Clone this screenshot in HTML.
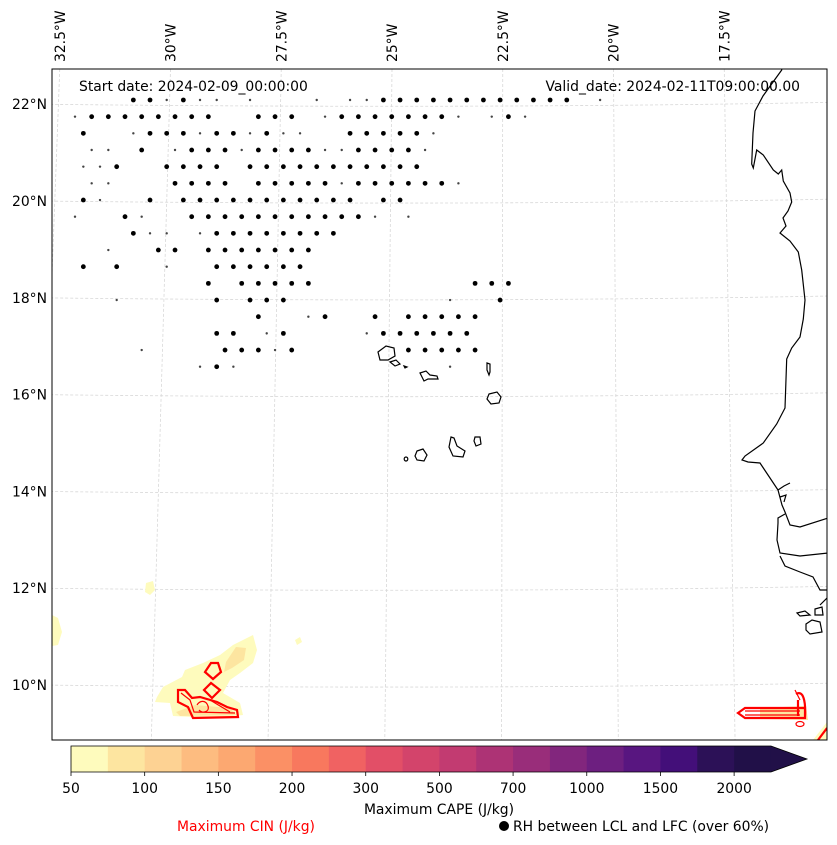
<!DOCTYPE html>
<html><head><meta charset="utf-8"><style>
html,body{margin:0;padding:0;background:#fff;}
svg{display:block;font-family:"DejaVu Sans","Liberation Sans",sans-serif;}
</style></head><body>
<svg id="chart" width="837" height="845" viewBox="0 0 837 845" xmlns="http://www.w3.org/2000/svg">
<rect width="837" height="845" fill="#fff"/>
<defs><clipPath id="mapclip"><rect x="52" y="69" width="775" height="671"/></clipPath></defs>
<g id="grid" stroke="#d8d8d8" stroke-width="0.8" stroke-dasharray="3,2" fill="none" clip-path="url(#mapclip)"></g>
<g id="cape" clip-path="url(#mapclip)">
  <path fill="#fefbbd" d="M253,635 L257,650 L253,663 L240,673 L230,680 L223,693 L240,703 L243,715 L213,718 L173,716 L170,703 L155,702 L157,697 L163,687 L182,677 L185,670 L203,663 L220,655 L233,645 Z"/>
  <path fill="#fde5a0" d="M236,647 L246,648 L244,660 L232,668 L224,672 L226,662 Z M176,712 L195,705 L230,708 L236,715 L180,716 Z"/>
  <path fill="#fefbbd" d="M146,583 L153,581 L155,590 L150,595 L145,592 Z M295,640 L300,637 L302,642 L297,645 Z M52,615 L58,618 L62,632 L58,645 L52,646 Z"/>
  <path fill="#fde5a0" d="M760,708 L806,706 L808,720 L760,719 Z"/>
  <path fill="#fefbbd" d="M813,740 L827,722 L827,740 Z"/>
</g>
<g id="cin" fill="none" stroke="#ff0000" stroke-width="2.2" clip-path="url(#mapclip)">
  <path d="M211,663 L218,663 L221,672 L213,679 L205,672 Z"/>
  <path d="M211,683 L220,690 L212,698 L204,690 Z"/>
  <path d="M178,690 L185,690 L192,698 L200,697 L217,702 L227,707 L237,710 L238,717 L193,718 L188,707 L178,702 Z"/>
  <path stroke-width="1.2" d="M181,693 L190,700 L194,712 L235,713 M197,705 C200,700 206,700 208,706 C210,712 202,714 199,710 M210,700 L230,712"/>
  <path d="M738,713 L745,708 L805,708 L805,718 L745,718 Z M796,694 C803,690 806,700 805,718 M798,700 L798,716"/>
  <path stroke-width="1.2" d="M745,711 L800,711 M745,715 L800,715 M795,690 L800,700"/>
  <ellipse cx="800" cy="724" rx="4" ry="2.5" stroke-width="1.2"/>
  <path d="M818,740 L827,728"/>
</g>
<g id="coast" fill="none" stroke="#000" stroke-width="1.2" clip-path="url(#mapclip)">
  <path d="M782,60 L781.7,70 L763,96 L755,111 L753,133 L751.7,164 L753.3,168 L756.7,150 L763.3,155 L773.3,170 L778.3,174 L781.7,170 L783.3,181 L790,193 L791.7,202 L788,211 L783,218 L786,226 L780,233 L790,241 L798.3,252 L801.7,270 L805,300 L803.3,319 L800,337 L791.7,348 L786.7,359 L785,408 L776.7,424 L763.3,443 L745,456 L742,460 L748,462 L760,463 L770,478 L778,490 L782,505 L785,512 L790,525 L800,527 L828,518"/>
  <path d="M778,490 L784,486 L790,483 M780,497 L786,495 L784,502"/>
  <path d="M785,514 L778,518 L778,523 L777,540 L780,553 L800,556 L828,553"/>
  <path d="M780,556 L785,566 L800,572 L813,577 L820,590 L828,590"/>
  <path d="M797,613 L805,611 L810,615 L800,616 Z M815,609 L822,607 L823,615 L815,615 Z M806,624 L812,620 L820,622 L822,632 L810,634 L806,630 Z M820,605 L827,598"/>
  <path d="M378,352 L386,346 L394,348 L395,356 L388,360 L380,360 Z"/>
  <path d="M390,362 L396,360 L400,364 L395,366 Z M404,366 L407,367 L405,368 Z"/>
  <path d="M420,373 L426,371 L430,375 L437,376 L438,379 L428,379 L424,381 Z"/>
  <path d="M487,363 L490,364 L490,372 L489,375 L487,370 Z"/>
  <path d="M489,394 L497,392 L501,397 L499,403 L491,404 L487,399 Z"/>
  <path d="M451,437 L454,438 L457,446 L465,451 L463,457 L453,456 L449,447 Z"/>
  <path d="M475,437 L480,437 L481,444 L476,446 L474,441 Z"/>
  <path d="M417,451 L423,449 L427,455 L424,461 L417,460 L415,456 Z"/>
  <ellipse cx="406" cy="459" rx="1.8" ry="2"/>
</g>
<g id="dots" clip-path="url(#mapclip)"></g>
<rect x="52" y="69" width="775" height="671" fill="none" stroke="#000" stroke-width="1"/>
<g id="latlabels" font-size="13.9" text-anchor="end" fill="#000"></g>
<g id="lonlabels" font-size="13.9" fill="#000"></g>
<text x="79" y="91" font-size="13.9">Start date: 2024-02-09_00:00:00</text>
<text x="800" y="91" font-size="13.9" text-anchor="end">Valid_date: 2024-02-11T09:00:00.00</text>
<g id="cbar"></g>
<g id="cbticks" font-size="13.9" text-anchor="middle"></g>
<text x="439" y="814" font-size="13.9" text-anchor="middle">Maximum CAPE (J/kg)</text>
<text x="246" y="831" font-size="13.9" text-anchor="middle" fill="#ff0000">Maximum CIN (J/kg)</text>
<circle cx="504" cy="826" r="5" fill="#000"/>
<text x="513" y="831" font-size="13.9">RH between LCL and LFC (over 60%)</text>
</svg>
<script>
const NS = "http://www.w3.org/2000/svg";
// RH dot grid rows: 'o' full dot, 'x' partial mark, '.' none
const dotRows = [
"....ooxoxx.x...x.xxoooooooooooo.x",
"xoooooooo..ooo.xooooooox.xox",
".o..xoooxooxoxx..ooooox",
".xx.o.xoooxooooxxoooox",
".xxo..oooo.ooooooooooo",
".xx...oooo.oooooxoooooox",
".ox..o.ooooooooooo.oo",
"x..ox..ooooooooooox.x",
"....oxx.xoooooooo",
"..x..oo.ooooooo",
".o.o..x..oooooo",
"........o.ooooo.........ooo",
"...x.....o.ooo.........x..o",
"...........o..xo..o.ooooo",
".........oo.xo....xoooooo",
"....x....oooxo......ooooo",
"........xox............x"
];
const latTicks = [22, 20, 18, 16, 14, 12, 10];
const latLabels = ["22°N","20°N","18°N","16°N","14°N","12°N","10°N"];
const lonTicks = [-32.5, -30, -27.5, -25, -22.5, -20, -17.5];
const lonLabels = ["32.5°W","30°W","27.5°W","25°W","22.5°W","20°W","17.5°W"];
const capeLevels = [50,75,100,125,150,175,200,250,300,400,500,600,700,800,1000,1250,1500,1750,2000];
const capeColors = ["#fefbbd","#fde5a0","#fdd293","#fdbc80","#fca871","#fb9065","#f8785e","#f06262","#e24f67","#d3446b","#c23b71","#ad3375","#992d7a","#82267d","#6d1f80","#581680","#430f79","#2c1157","#211048"];
const cbLabels = ["50","100","150","200","300","500","700","1000","1500","2000"];

// axis functions
function latY(lat){ return 685 - (lat-10)*48.4; }
function lonXTop(lon){ return 392 + (lon+25)*44.3; }
function lonXBot(lon){ return lonXTop(lon) + (lon+22)*2.4; }
function dotX(row,k){ return (row%2===0 ? 66.67 : 75) + 16.67*k; }
function dotY(row){ return 100 + 16.67*row; }

const grid = document.getElementById('grid');
latTicks.forEach((lat,i)=>{
  const y = latY(lat);
  const p = document.createElementNS(NS,'path');
  p.setAttribute('d', `M40,${y} Q470,${y+5} 840,${y-2}`);
  
  
  grid.appendChild(p);
  const t = document.createElementNS(NS,'text');
  t.setAttribute('x', 47); t.setAttribute('y', y+5);
  t.textContent = latLabels[i];
  
  
  document.getElementById('latlabels').appendChild(t);
});
lonTicks.forEach((lon,i)=>{
  const xt = lonXTop(lon);
  const xb = lonXBot(lon);
  const p = document.createElementNS(NS,'path');
  p.setAttribute('d', `M${xt},69 L${xb},740`);
  
  
  grid.appendChild(p);
  const t = document.createElementNS(NS,'text');
  t.setAttribute('transform', `translate(${xt+5},62) rotate(-90)`);
  t.textContent = lonLabels[i];
  
  
  document.getElementById('lonlabels').appendChild(t);
});

const dots = document.getElementById('dots');
dotRows.forEach((row,r)=>{
  for(let k=0;k<row.length;k++){
    const c=row[k]; if(c==='.') continue;
    const d=document.createElementNS(NS,'circle');
    d.setAttribute('cx', dotX(r,k)); d.setAttribute('cy', dotY(r));
    d.setAttribute('r', c==='o'?2.4:1.2);
    d.setAttribute('fill', c==='o'?'#000':'#444');
    
    
    dots.appendChild(d);
  }
});

// colorbar
const cb = document.getElementById('cbar');
const cbX0=71, cbW=36.84, cbY=746, cbH=26;
capeColors.forEach((col,i)=>{
  const r=document.createElementNS(NS,'rect');
  r.setAttribute('x', cbX0+i*cbW); r.setAttribute('y', cbY);
  r.setAttribute('width', cbW+0.5); r.setAttribute('height', cbH);
  r.setAttribute('fill', col);
  
  
  cb.appendChild(r);
});
const xEnd = cbX0+capeColors.length*cbW;
const tri=document.createElementNS(NS,'path');
tri.setAttribute('d', `M${xEnd},${cbY} L${xEnd+36},${cbY+cbH/2} L${xEnd},${cbY+cbH} Z`);
tri.setAttribute('fill', capeColors[capeColors.length-1]);


cb.appendChild(tri);
const outline=document.createElementNS(NS,'path');
outline.setAttribute('d', `M${cbX0},${cbY} L${xEnd},${cbY} L${xEnd+36},${cbY+cbH/2} L${xEnd},${cbY+cbH} L${cbX0},${cbY+cbH} Z`);
outline.setAttribute('fill','none'); outline.setAttribute('stroke','#000'); outline.setAttribute('stroke-width','0.8');


cb.appendChild(outline);
const cbt=document.getElementById('cbticks');
cbLabels.forEach((lab,i)=>{
  const x = cbX0 + i*2*cbW;
  const tk=document.createElementNS(NS,'line');
  tk.setAttribute('x1',x); tk.setAttribute('x2',x); tk.setAttribute('y1',cbY+cbH); tk.setAttribute('y2',cbY+cbH+4);
  tk.setAttribute('stroke','#000'); tk.setAttribute('stroke-width','0.8');
  
  
  cbt.appendChild(tk);
  const t=document.createElementNS(NS,'text');
  t.setAttribute('x',x); t.setAttribute('y',793);
  t.textContent=lab;
  
  
  cbt.appendChild(t);
});
</script>
</body></html>
